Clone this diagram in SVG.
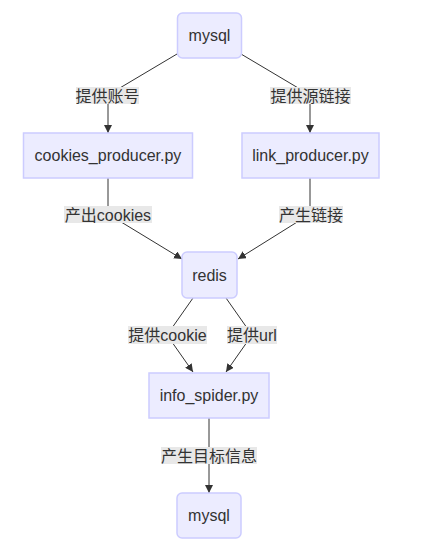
<svg xmlns="http://www.w3.org/2000/svg" width="435" height="559" viewBox="0 0 435 559">
<style>
.node rect{fill:#ECECFF;stroke:#CCCCFF;stroke-width:1.5}
.node text{font-family:"Liberation Sans","Noto Sans CJK SC",sans-serif;font-size:16px;fill:#333;text-anchor:middle}
.edge path{fill:none;stroke:#333;stroke-width:1}
.lbl rect{fill:#e8e8e8}
.lbl text{font-family:"Liberation Sans","Noto Sans CJK SC",sans-serif;font-size:16px;fill:#333;text-anchor:middle}
</style>
<defs>
<marker id="arr" markerUnits="userSpaceOnUse" markerWidth="8" markerHeight="8" refX="8" refY="4" orient="auto">
<path d="M0,0 L8,4 L0,8 z" fill="#333"/>
</marker>
</defs>
<rect width="435" height="559" fill="#fff"/>
<g id="connectors">
<g class="edge">
<path d="M177,54 L108,95 L108,133" marker-end="url(#arr)"/>
<path d="M241,54 L310,95 L310,133" marker-end="url(#arr)"/>
<path d="M108,178 L108,214 L182,259" marker-end="url(#arr)"/>
<path d="M310,178 L310,214 L238,259" marker-end="url(#arr)"/>
<path d="M193,298 L167,335 L193,372" marker-end="url(#arr)"/>
<path d="M226,298 L252,335 L226,372" marker-end="url(#arr)"/>
<path d="M209,418 L209,493" marker-end="url(#arr)"/>
</g>
<g class="lbl">
<rect x="76" y="87" width="63" height="17"/><text x="107.5" y="101.5">提供账号</text>
<rect x="270" y="87" width="81" height="17"/><text x="310.5" y="101.5">提供源链接</text>
<rect x="64" y="206" width="88" height="17"/><text x="108" y="220.5">产出cookies</text>
<rect x="279" y="206" width="64" height="17"/><text x="311" y="220.5">产生链接</text>
<rect x="128" y="326" width="79" height="18"/><text x="167.5" y="341">提供cookie</text>
<rect x="227" y="326" width="50" height="18"/><text x="252" y="341">提供url</text>
<rect x="161" y="447" width="96" height="17"/><text x="209" y="461.5">产生目标信息</text>
</g>
</g>
<g id="mysql1" class="node"><rect x="177.5" y="13" width="64" height="45" rx="5"/><text x="209.5" y="41">mysql</text></g>
<g id="cookies_producer" class="node"><rect x="23.5" y="133" width="169" height="45"/><text x="108" y="161">cookies_producer.py</text></g>
<g id="link_producer" class="node"><rect x="242" y="133" width="137" height="45"/><text x="310.5" y="161">link_producer.py</text></g>
<g id="redis" class="node"><rect x="182" y="252" width="55" height="46" rx="5"/><text x="209.5" y="281">redis</text></g>
<g id="info_spider" class="node"><rect x="149" y="373" width="120" height="45"/><text x="209" y="401">info_spider.py</text></g>
<g id="mysql2" class="node"><rect x="177" y="493" width="64" height="45" rx="5"/><text x="209" y="521">mysql</text></g>
</svg>
